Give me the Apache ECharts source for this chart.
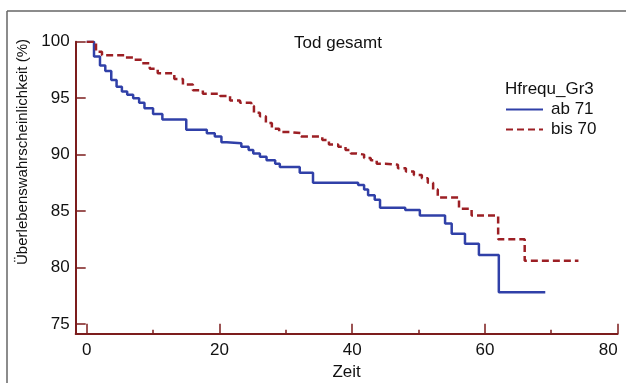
<!DOCTYPE html>
<html>
<head>
<meta charset="utf-8">
<script src="https://cdn.jsdelivr.net/npm/echarts@6/dist/echarts.min.js"></script>
<style>
  html, body { margin: 0; padding: 0; background: #ffffff; }
  #chart { width: 626px; height: 383px; }
</style>
</head>
<body>
<div id="chart"></div>
<script>
// ---- Data ----
const titleText = 'Tod gesamt';
const xAxisTitle = 'Zeit';
const yAxisTitle = 'Überlebenswahrscheinlichkeit (%)';
const legendTitle = 'Hfrequ_Gr3';
const seriesNames = ['ab 71', 'bis 70'];

const xTicksMajor = [0, 20, 40, 60, 80];
const xTicksMinor = [10, 30, 50, 70];
const yTicks = [75, 80, 85, 90, 95, 100];

// Kaplan-Meier steps: [time, survival after event]
const ab71Times = [0, 1.1, 2.0, 2.8, 3.7, 4.5, 5.3, 6.1, 7.0, 7.9, 8.7, 10.0, 11.4, 15.0, 18.1, 19.3, 20.3, 21.1, 23.3, 24.4, 25.1, 26.1, 27.1, 28.4, 29.1, 32.1, 34.1, 40.9, 41.8, 42.4, 43.4, 44.2, 48.0, 50.2, 54.0, 55.0, 57.0, 59.1, 62.1, 69.1];
const ab71Values = [100, 98.7, 97.9, 97.4, 96.6, 96.0, 95.6, 95.3, 95.0, 94.6, 94.1, 93.6, 93.1, 92.2, 91.9, 91.6, 91.1, 91.0, 90.7, 90.4, 90.1, 89.8, 89.5, 89.2, 88.9, 88.4, 87.5, 87.3, 86.9, 86.4, 86.0, 85.3, 85.1, 84.6, 83.9, 83.0, 82.1, 81.1, 77.8, 77.8];

const bis70Times = [0, 1.4, 2.3, 5.8, 7.0, 8.3, 9.5, 10.7, 13.2, 14.5, 16.0, 17.5, 20.1, 21.6, 23.1, 24.8, 25.2, 26.1, 27.0, 27.9, 29.0, 30.6, 32.3, 35.5, 36.5, 37.9, 39.0, 39.8, 40.7, 41.8, 42.8, 43.7, 45.0, 46.9, 48.1, 49.3, 50.5, 51.4, 52.2, 52.9, 56.1, 58.0, 62.0, 66.0, 74.1];
const bis70Values = [100, 99.1, 98.8, 98.6, 98.4, 98.1, 97.6, 97.2, 96.7, 96.2, 95.7, 95.4, 95.2, 94.8, 94.6, 94.3, 93.7, 93.4, 92.8, 92.3, 92.0, 91.9, 91.6, 91.3, 90.9, 90.7, 90.4, 90.1, 90.0, 89.7, 89.5, 89.2, 89.1, 88.8, 88.5, 88.2, 87.9, 87.5, 86.9, 86.2, 85.2, 84.6, 82.5, 80.6, 80.6];

// ---- Chart ----
const axisColor = '#7c1d1d';
const blue = '#3040a8';
const red = '#9c1f24';
const font = 'Liberation Sans, Arial, sans-serif';

const zip = (a, b) => a.map((t, i) => [t, b[i]]);

const chart = echarts.init(document.getElementById('chart'), null, { renderer: 'canvas' });
chart.setOption({
  animation: false,
  backgroundColor: '#ffffff',
  title: [
    { text: titleText, left: 333, top: 30, textAlign: 'center',
      textStyle: { fontFamily: font, fontSize: 17, fontWeight: 'normal', color: '#111' } },
    { text: legendTitle, left: 500, top: 76,
      textStyle: { fontFamily: font, fontSize: 17, fontWeight: 'normal', color: '#111' } }
  ],
  legend: {
    data: seriesNames,
    orient: 'vertical',
    left: 505, top: 101, padding: 0,
    itemWidth: 37, itemHeight: 14, itemGap: 3,
    itemStyle: { opacity: 0 },
    textStyle: { fontFamily: font, fontSize: 17, color: '#111', padding: [0, 0, 0, 3] }
  },
  grid: { left: 75.7, right: 8.4, top: 41.7, bottom: 49.3, containLabel: false, outerBoundsMode: 'none' },
  xAxis: [
    {
      type: 'value', min: -1.66, max: 80,
      name: xAxisTitle, nameLocation: 'middle', nameGap: 28,
      nameTextStyle: { fontFamily: font, fontSize: 17, color: '#111' },
      axisLine: { show: true, onZero: false, lineStyle: { color: axisColor, width: 2 } },
      axisTick: { show: true, inside: true, length: 10, customValues: xTicksMajor, lineStyle: { color: axisColor, width: 1.5 } },
      axisLabel: { show: true, customValues: xTicksMajor, margin: 8, alignMaxLabel: 'right', fontFamily: font, fontSize: 17, color: '#111' },
      splitLine: { show: false }
    },
    {
      type: 'value', min: -1.66, max: 80, position: 'bottom',
      axisLine: { show: false },
      axisTick: { show: true, inside: true, length: 4, customValues: xTicksMinor, lineStyle: { color: axisColor, width: 1.5 } },
      axisLabel: { show: false },
      splitLine: { show: false }
    }
  ],
  yAxis: {
    type: 'value', min: 74.14, max: 100,
    axisLine: { show: true, onZero: false, lineStyle: { color: axisColor, width: 2 } },
    axisTick: { show: true, inside: true, length: 10, customValues: yTicks, lineStyle: { color: axisColor, width: 1.5 } },
    axisLabel: { show: true, customValues: yTicks, margin: 6, fontFamily: font, fontSize: 17, color: '#111' },
    splitLine: { show: false }
  },
  graphic: [
    { type: 'line', shape: { x1: 7, y1: 11, x2: 626, y2: 11 }, style: { stroke: '#666', lineWidth: 1.5 } },
    { type: 'line', shape: { x1: 7, y1: 11, x2: 7, y2: 383 }, style: { stroke: '#666', lineWidth: 1.5 } },
    { type: 'text', x: 23, y: 152, rotation: Math.PI / 2,
      style: { text: yAxisTitle, font: '15px ' + font, fill: '#111', align: 'center', verticalAlign: 'middle' } }
  ],
  series: [
    {
      name: seriesNames[0], type: 'line', step: 'end', symbol: 'none', showSymbol: false,
      data: zip(ab71Times, ab71Values),
      lineStyle: { color: blue, width: 2.5 }, itemStyle: { color: blue }
    },
    {
      name: seriesNames[1], type: 'line', step: 'end', symbol: 'none', showSymbol: false,
      data: zip(bis70Times, bis70Values),
      lineStyle: { color: red, width: 2.5, type: [7, 4] }, itemStyle: { color: red }
    }
  ]
});
</script>
</body>
</html>
